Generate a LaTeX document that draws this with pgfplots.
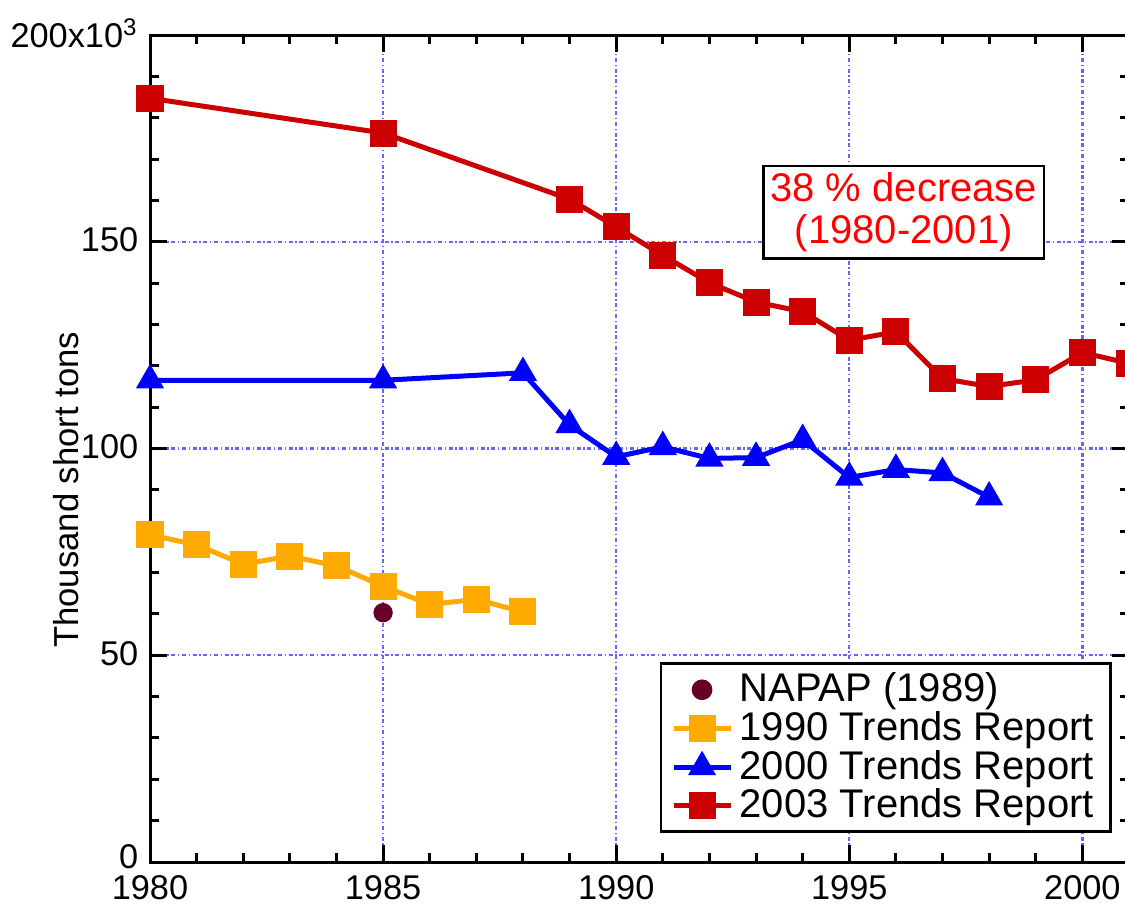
\documentclass[border=0pt]{standalone}
\usepackage{pgfplots}
\pgfplotsset{compat=1.18}
\usepackage{fontspec}
\setmainfont{Liberation Sans}

\definecolor{trred}{RGB}{204,0,0}
\definecolor{trorange}{RGB}{255,170,0}
\definecolor{trblue}{RGB}{0,0,255}
\definecolor{napap}{RGB}{102,0,40}
\definecolor{gridblue}{RGB}{100,100,255}

\begin{document}
\begin{tikzpicture}
\useasboundingbox (-45pt,-12.3pt) rectangle (292.5pt,258.6pt);
\begin{axis}[
  scale only axis, width=293.7pt, height=248.1pt,
  xmin=1980, xmax=2001, ymin=0, ymax=200,
  xtick={1980,1985,...,2000}, ytick={0,50,...,200},
  yticklabels={\raisebox{2pt}{0},50,100,150,{200x10\textsuperscript{3}}},
  minor x tick num=4, minor y tick num=4,
  tick align=inside, xtick pos=both, ytick pos=both,
  major tick length=5pt, minor tick length=2.8pt,
  tick style={black, line width=0.9pt},
  axis line style={line width=0.9pt},
  xmajorgrids, ymajorgrids,
  major grid style={gridblue, line width=0.7pt, dash pattern=on 1.2pt off 0.8pt on 0.4pt off 0.8pt},
  /pgf/number format/assume math mode=true,
  /pgf/number format/1000 sep={},
  yticklabel style={font=\fontsize{10.3}{12}\selectfont, yshift=0.6pt, inner ysep=0pt},
  xticklabel style={font=\fontsize{10.3}{12}\selectfont, inner ysep=0pt, yshift=-3.8pt},
  ylabel={Thousand short tons},
  ylabel style={at={(axis description cs:-0.086,0.45)}, anchor=center, font=\fontsize{10.4}{12}\selectfont},
  clip=false,
  legend cell align=left,
  legend style={at={(0.9826,0.035)}, anchor=south east, draw=black, line width=0.8pt,
    font=\fontsize{12}{12}\selectfont, row sep=0pt,
    nodes={inner ysep=0.7pt, inner xsep=2pt}},
]
% NAPAP estimate
\addplot[only marks, mark=*, mark size=2.7pt, color=napap] coordinates {(1985,60.3)};
\addlegendentry{NAPAP (1989)}
% 1990 Trends Report
\addplot[trorange, line width=1.5pt, mark=square*, mark size=3.3pt] coordinates {
  (1980,79.1) (1981,76.7) (1982,72.0) (1983,74.0) (1984,71.6)
  (1985,66.7) (1986,62.3) (1987,63.5) (1988,60.5)};
\addlegendentry{1990 Trends Report}
% 2000 Trends Report
\addplot[trblue, line width=1.5pt, mark=triangle*, mark size=3.4pt] coordinates {
  (1980,116.5) (1985,116.5) (1988,118.3) (1989,105.7) (1990,98.0)
  (1991,100.4) (1992,97.6) (1993,97.8) (1994,102.1) (1995,93.0)
  (1996,94.9) (1997,94.1) (1998,88.2)};
\addlegendentry{2000 Trends Report}
% 2003 Trends Report
\addplot[trred, line width=1.5pt, mark=square*, mark size=3.3pt] coordinates {
  (1980,184.7) (1985,176.3) (1989,160.3) (1990,153.6) (1991,146.7)
  (1992,140.1) (1993,135.4) (1994,133.1) (1995,126.2) (1996,128.2)
  (1997,116.9) (1998,115.0) (1999,116.6) (2000,123.2) (2001,120.6)};
\addlegendentry{2003 Trends Report}

\node[draw=black, line width=0.75pt, fill=white, text=red, align=center,
  font=\fontsize{12}{12.6}\selectfont, inner xsep=2pt, inner ysep=2pt]
  at (axis cs:1996.17,157.1) {38 \% decrease\\(1980-2001)};
\end{axis}
\end{tikzpicture}
\end{document}
